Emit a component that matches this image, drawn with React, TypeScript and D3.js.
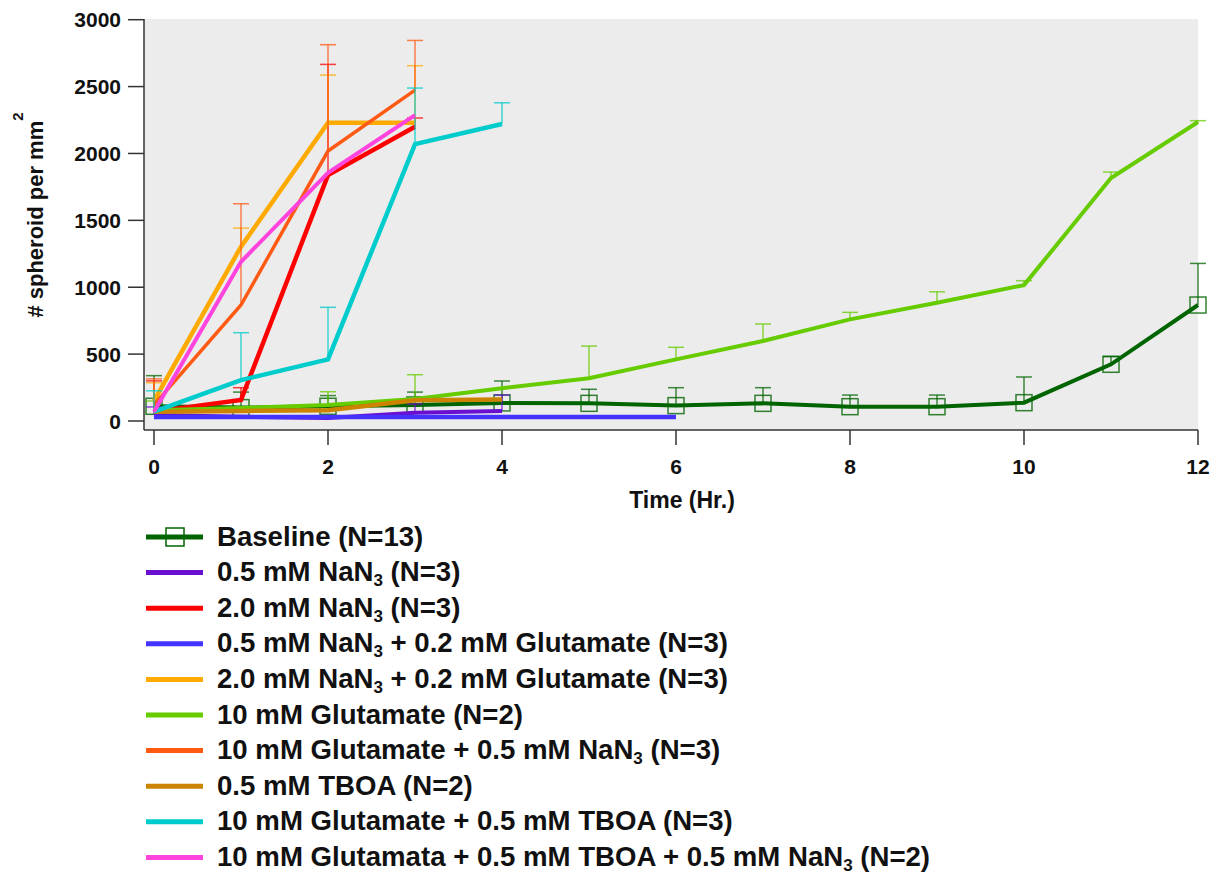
import React from "react";
import * as d3 from "d3";

// ---------- data ----------
const hours = [0, 1, 2, 3, 4, 5, 6, 7, 8, 9, 10, 11, 12];
const xTicks = [0, 2, 4, 6, 8, 10, 12];
const yTicks = [0, 500, 1000, 1500, 2000, 2500, 3000];

const baseline = [110, 100, 110, 120, 135, 132, 115, 132, 107, 107, 137, 424, 867];
const baselineErr = [339, 216, 190, 216, 299, 237, 249, 249, 194, 194, 329, 481, 1178];

const nan05 = [45, 32, 22, 62, 75];
const nan05Err = [105, null, null, 127, 194];

const nan20 = [70, 157, 1838, 2200];
const nan20Err = [300, 249, 2666, 2265];

const nan05Glu = [30, 30, 30, 30, 30, 30, 30];
const nan05GluErr: (number | null)[] = [];

const nan20Glu = [150, 1303, 2230, 2230];
const nan20GluErr = [286, 1442, 2586, 2656];

const glu10 = [80, 97, 120, 165, 245, 319, 461, 598, 760, 884, 1016, 1816, 2235];
const glu10Err = [150, null, 219, 346, null, 560, 551, 725, 812, 966, 1049, 1861, 2245];

const glu10Nan = [120, 867, 2018, 2474];
const glu10NanErr = [315, 1624, 2813, 2845];

const tboa = [70, 75, 80, 155, 160];
const tboaErr: (number | null)[] = [];

const glu10Tboa = [70, 306, 461, 2070, 2220];
const glu10TboaErr = [226, 660, 850, 2489, 2379];

const glu10TboaNan = [70, 1190, 1856, 2287];
const glu10TboaNanErr: (number | null)[] = [];

type Seg = { t: string; sub?: boolean };
const legendLabels: Seg[][] = [
  [{ t: "Baseline (N=13)" }],
  [{ t: "0.5 mM NaN" }, { t: "3", sub: true }, { t: " (N=3)" }],
  [{ t: "2.0 mM NaN" }, { t: "3", sub: true }, { t: " (N=3)" }],
  [{ t: "0.5 mM NaN" }, { t: "3", sub: true }, { t: " + 0.2 mM Glutamate (N=3)" }],
  [{ t: "2.0 mM NaN" }, { t: "3", sub: true }, { t: " + 0.2 mM Glutamate (N=3)" }],
  [{ t: "10 mM Glutamate (N=2)" }],
  [{ t: "10 mM Glutamate + 0.5 mM NaN" }, { t: "3", sub: true }, { t: " (N=3)" }],
  [{ t: "0.5 mM TBOA (N=2)" }],
  [{ t: "10 mM Glutamate + 0.5 mM TBOA (N=3)" }],
  [{ t: "10 mM Glutamata + 0.5 mM TBOA + 0.5 mM NaN" }, { t: "3", sub: true }, { t: " (N=2)" }],
];

const colors = [
  "#006400",
  "#6A0FD0",
  "#FF0000",
  "#4433FF",
  "#FFAA00",
  "#66CC00",
  "#FF5A14",
  "#CC8400",
  "#00CCCC",
  "#FF44DD",
];

const seriesValues = [baseline, nan05, nan20, nan05Glu, nan20Glu, glu10, glu10Nan, tboa, glu10Tboa, glu10TboaNan];
const seriesErrs = [baselineErr, nan05Err, nan20Err, nan05GluErr, nan20GluErr, glu10Err, glu10NanErr, tboaErr, glu10TboaErr, glu10TboaNanErr];
const lineWidths = [4, 4, 4.5, 4.5, 4.5, 4, 3.5, 4.5, 4.5, 4];

// ---------- layout ----------
const W = 1219;
const H = 875;
const FONT = "'Liberation Sans', Arial, Helvetica, sans-serif";

const x = d3.scaleLinear().domain([0, 12]).range([154, 1198]);
const y = d3.scaleLinear().domain([0, 3000]).range([421, 19.7]);

const plotLeft = 144;
const plotTop = 19;
const plotBottom = 430;
const plotRight = 1198;

export default function App() {
  const line = d3
    .line<[number, number]>()
    .x((d) => x(d[0]))
    .y((d) => y(d[1]));

  return (
    <svg
      width={W}
      height={H}
      style={{ position: "absolute", left: 0, top: 0, background: "#fff" }}
      fontFamily={FONT}
    >
      <rect x={0} y={0} width={W} height={H} fill="#fff" />
      <rect x={plotLeft} y={plotTop} width={plotRight - plotLeft} height={plotBottom - plotTop} fill="#ECECEC" />

      {/* axes */}
      <line x1={plotLeft} x2={plotLeft} y1={plotTop} y2={plotBottom} stroke="#333" strokeWidth={1.5} />
      <line x1={plotLeft} x2={plotRight} y1={plotBottom} y2={plotBottom} stroke="#333" strokeWidth={1.5} />
      {yTicks.map((v) => (
        <g key={"yt" + v}>
          <line x1={128} x2={plotLeft} y1={y(v)} y2={y(v)} stroke="#333" strokeWidth={1.5} />
          <text x={121} y={y(v)} dy="0.36em" textAnchor="end" fontSize={21} fontWeight="bold" fill="#111">
            {v}
          </text>
        </g>
      ))}
      {xTicks.map((v) => (
        <g key={"xt" + v}>
          <line x1={x(v)} x2={x(v)} y1={plotBottom} y2={445} stroke="#333" strokeWidth={1.5} />
          <text x={x(v)} y={474} textAnchor="middle" fontSize={21} fontWeight="bold" fill="#111">
            {v}
          </text>
        </g>
      ))}
      <text x={682} y={508} textAnchor="middle" fontSize={23} fontWeight="bold" fill="#111">
        Time (Hr.)
      </text>
      <text
        transform="translate(43,215) rotate(-90)"
        textAnchor="middle"
        fontSize={22}
        fontWeight="bold"
        fill="#111"
      >
        # spheroid per mm
        <tspan fontSize={15} dy={-20}>2</tspan>
      </text>

      {/* series */}
      {seriesValues.map((vals, si) => {
        const pts: [number, number][] = vals.map((v, i) => [hours[i], v]);
        const errs = seriesErrs[si];
        return (
          <g key={"s" + si}>
            {errs.map((e, i) =>
              e == null || i >= vals.length ? null : (
                <g key={"e" + i} stroke={colors[si]} strokeOpacity={0.75} strokeWidth={1.5}>
                  <line x1={x(hours[i])} x2={x(hours[i])} y1={y(vals[i])} y2={y(e)} />
                  <line x1={x(hours[i]) - 8} x2={x(hours[i]) + 8} y1={y(e)} y2={y(e)} />
                </g>
              )
            )}
            <path d={line(pts) || ""} fill="none" stroke={colors[si]} strokeWidth={lineWidths[si]} strokeLinejoin="miter" />
            {si === 0 &&
              pts.map((p, i) => (
                <rect
                  key={"m" + i}
                  x={x(p[0]) - 8}
                  y={y(p[1]) - 8}
                  width={16}
                  height={16}
                  fill="none"
                  stroke={colors[0]}
                  strokeOpacity={0.8}
                  strokeWidth={1.5}
                />
              ))}
          </g>
        );
      })}

      {/* legend */}
      {legendLabels.map((segs, i) => {
        const ly = 537 + i * 35.6;
        return (
          <g key={"lg" + i}>
            <line x1={146} x2={203} y1={ly} y2={ly} stroke={colors[i]} strokeWidth={5} />
            {i === 0 && (
              <rect x={166} y={ly - 9} width={18} height={18} fill="none" stroke={colors[0]} strokeWidth={1.5} />
            )}
            <text x={217} y={ly + 8.5} fontSize={27.6} fontWeight="bold" fill="#111">
              {segs.map((s, k) =>
                s.sub ? (
                  <tspan key={k} fontSize={17} dy={5}>
                    {s.t}
                  </tspan>
                ) : (
                  <tspan key={k} dy={k > 0 && segs[k - 1].sub ? -5 : 0}>
                    {s.t}
                  </tspan>
                )
              )}
            </text>
          </g>
        );
      })}
    </svg>
  );
}
